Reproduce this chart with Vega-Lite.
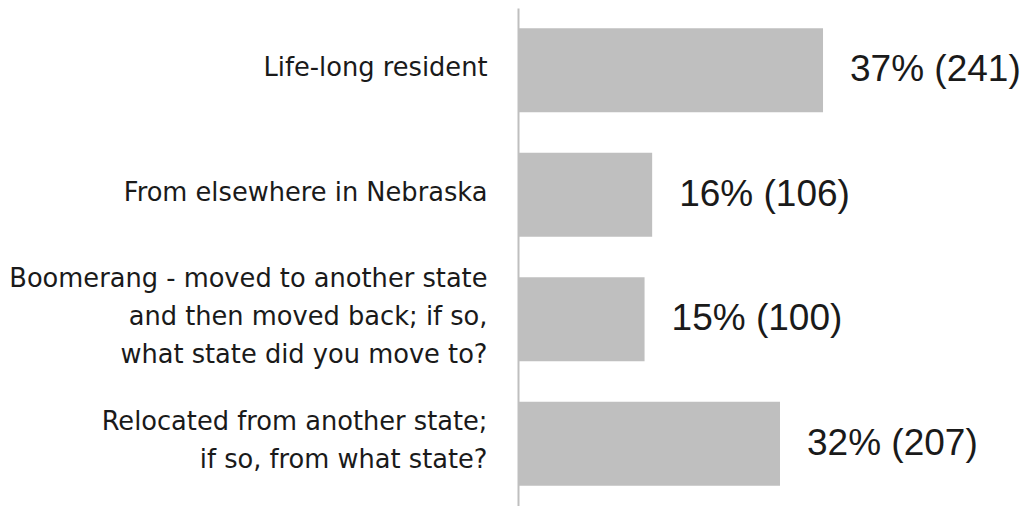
{
  "$schema": "https://vega.github.io/schema/vega-lite/v6.json",
  "width": 505,
  "height": 498,
  "autosize": {"type": "none"},
  "padding": {"left": 518, "top": 8, "right": 0, "bottom": 0},
  "background": "white",
  "config": {"view": {"stroke": null}},
  "data": {
    "values": [
      {"category": "Life-long resident", "pct": 37, "count": 241, "label": "37% (241)"},
      {"category": "From elsewhere in Nebraska", "pct": 16, "count": 106, "label": "16% (106)"},
      {"category": "Boomerang - moved to another state|and then moved back; if so,|what state did you move to?", "pct": 15, "count": 100, "label": "15% (100)"},
      {"category": "Relocated from another state;|if so, from what state?", "pct": 32, "count": 207, "label": "32% (207)"}
    ]
  },
  "encoding": {
    "y": {
      "field": "category",
      "type": "nominal",
      "sort": null,
      "scale": {"paddingInner": 0.325, "paddingOuter": 0.1625},
      "axis": {
        "title": null,
        "ticks": false,
        "grid": false,
        "domainColor": "#bfbfbf",
        "domainWidth": 2,
        "labelExpr": "split(datum.label, '|')",
        "labelFont": "DejaVu Sans",
        "labelFontSize": 25.7,
        "labelColor": "#1a1a1a",
        "labelPadding": 31,
        "labelLineHeight": 38,
        "labelLimit": 0,
        "labelAlign": "right",
        "labelBaseline": "middle",
        "labelOffset": {
          "condition": [
            {"test": "indexof(datum.value, 'Boomerang') === 0", "value": -40},
            {"test": "indexof(datum.value, 'Relocated') === 0", "value": -22}
          ],
          "value": -2
        }
      }
    }
  },
  "layer": [
    {
      "mark": {"type": "bar", "color": "#bfbfbf"},
      "encoding": {
        "x": {"field": "count", "type": "quantitative", "scale": {"domain": [0, 399]}, "axis": null}
      }
    },
    {
      "mark": {"type": "text", "align": "left", "baseline": "middle", "dx": 27, "fontSize": 37, "font": "Liberation Sans", "color": "#1a1a1a"},
      "encoding": {
        "x": {"field": "count", "type": "quantitative", "scale": {"domain": [0, 399]}, "axis": null},
        "text": {"field": "label"}
      }
    }
  ]
}
